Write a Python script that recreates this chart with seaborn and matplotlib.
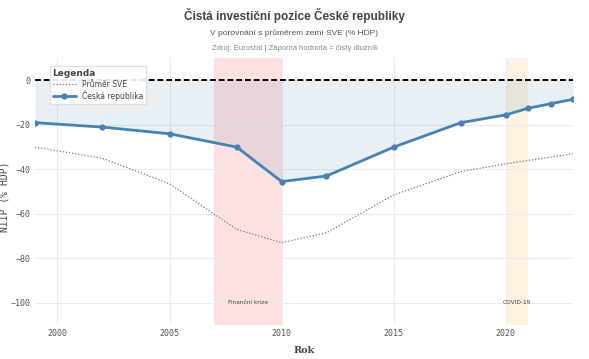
import pandas as pd
import numpy as np
import matplotlib.pyplot as plt
import seaborn as sns

# values
years = [1999, 2002, 2005, 2008, 2010, 2012, 2015, 2018, 2020, 2021, 2022, 2023]
cz_niip = [-19, -21, -24, -30, -45.5, -43, -30, -19, -15.5, -12.5, -10.5, -8.5]
sve_avg = [-30, -35, -46.5, -67, -73, -68.5, -51.5, -41, -37.5, -36, -34.5, -33]

events = ["Finanční krize", "COVID-19"]
event_start = [2007, 2020]
event_end = [2010, 2021]
event_colors = ["#ff9999", "#ffd79a"]

df = pd.DataFrame({"Rok": years, "CZ": cz_niip, "SVE": sve_avg})

sns.set_style("whitegrid")
plt.rcParams['font.family'] = ['DejaVu Sans']

fig = plt.figure(figsize=(5.89, 3.59), dpi=100)
ax = fig.add_axes([0.0594, 0.0947, 0.9136, 0.7433])

# highlighted periods
for name, s, e, c in zip(events, event_start, event_end, event_colors):
    ax.axvspan(s, e, color=c, alpha=0.3, lw=0, zorder=0)
    ax.text((s + e) / 2, -100, name, ha="center", va="center",
            fontsize=4.2, color="#444444", zorder=5)

ax.fill_between(df["Rok"], df["CZ"], 0, color="#4682b4", alpha=0.12, lw=0, zorder=1)
ax.axhline(0, color="black", lw=1.4, ls=(0, (3, 1.5)), zorder=2)

sns.lineplot(data=df, x="Rok", y="SVE", ax=ax, color="#777777", lw=0.9,
             ls=(0, (1, 1.5)), label="Průměr SVE", zorder=3)
sns.lineplot(data=df, x="Rok", y="CZ", ax=ax, color="#4682b4", lw=2,
             marker="o", markersize=4.5, markeredgewidth=0,
             label="Česká republika", zorder=4)

ax.set_xlim(1999, 2023)
ax.set_ylim(-110, 10)
ax.set_xticks([2000, 2005, 2010, 2015, 2020])
ax.set_yticks([0, -20, -40, -60, -80, -100])
ax.set_yticklabels(["0", "\u221220", "\u221240", "\u221260", "\u221280", "\u2212100"])
ax.grid(color="#ebebeb", lw=0.7)
for sp in ax.spines.values():
    sp.set_visible(False)
ax.tick_params(length=0, pad=3, labelsize=6, labelcolor="#555555")
for lab in ax.get_xticklabels() + ax.get_yticklabels():
    lab.set_family("DejaVu Sans Mono")

ax.set_xlabel("Rok", fontsize=7, fontweight="bold", family="DejaVu Serif",
              color="#444444")
ax.set_ylabel("NIIP (% HDP)", fontsize=7, family="DejaVu Sans Mono",
              color="#444444")
ax.xaxis.set_label_coords(0.5, -0.08)
ax.yaxis.set_label_coords(-0.048, 0.48)

leg = ax.legend(title="Legenda", loc="upper left", bbox_to_anchor=(0.02, 0.985),
                fontsize=5.5, title_fontsize=6.5, frameon=True, framealpha=0.9,
                edgecolor="#dddddd", fancybox=False, handlelength=3,
                borderpad=0.4, labelspacing=0.2)
leg.get_title().set_fontweight("bold")
leg.get_title().set_color("#444444")
leg._legend_box.align = "left"
for t in leg.get_texts():
    t.set_color("#444444")

fig.text(0.5, 0.958, "Čistá investiční pozice České republiky", ha="center",
         va="center", fontsize=8.5, fontweight="bold", color="#444444",
         family="Liberation Sans")
fig.text(0.5, 0.908, "V porovnání s průměrem zemí SVE (% HDP)", ha="center",
         va="center", fontsize=6, color="#555555", family="Liberation Sans")
fig.text(0.5, 0.866, "Zdroj: Eurostat | Záporná hodnota = čistý dlužník", ha="center",
         va="center", fontsize=5.5, color="#888888", family="Liberation Sans")

fig.savefig("out.png", dpi=100, facecolor="white")
